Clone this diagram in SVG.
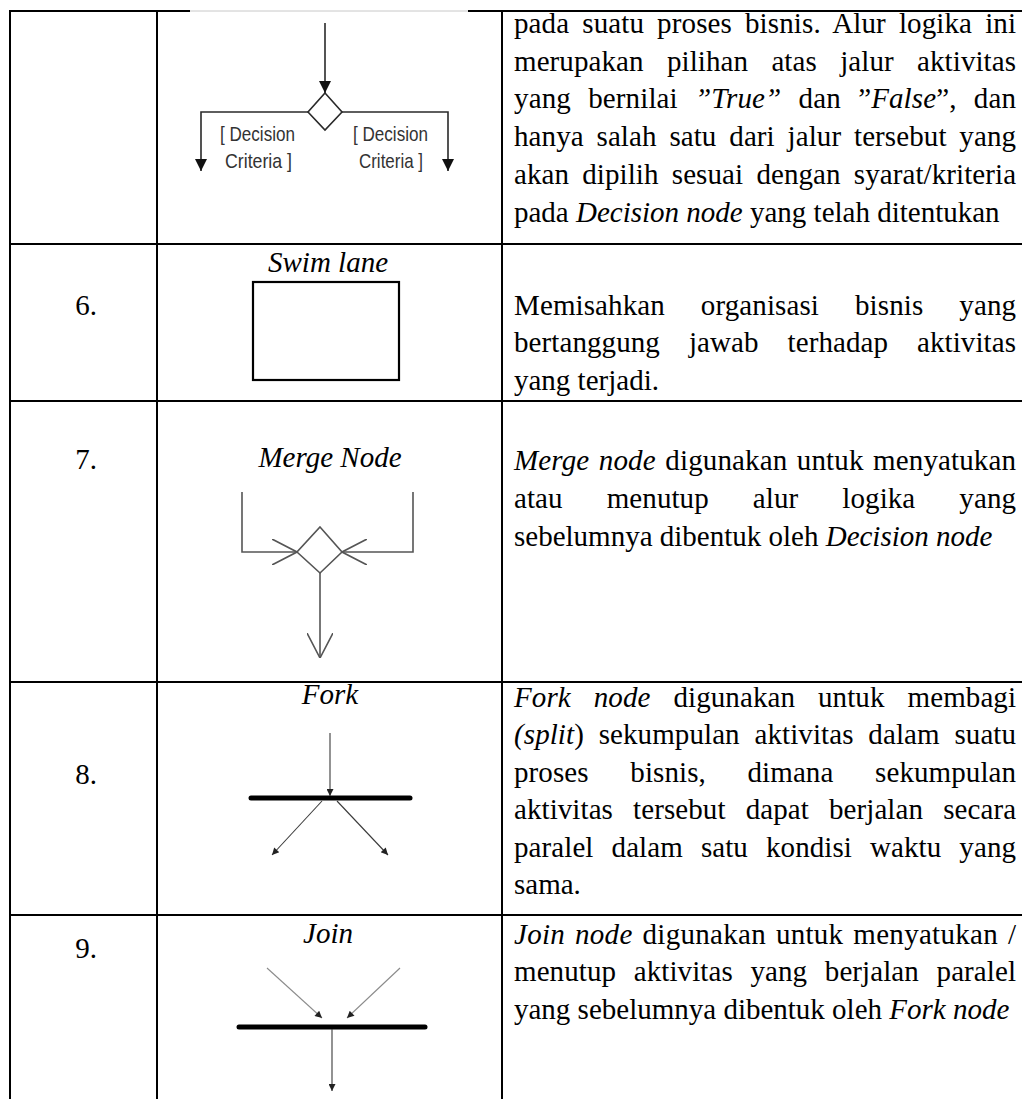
<svg xmlns="http://www.w3.org/2000/svg" width="1022" height="1099" viewBox="0 0 1022 1099">
  <style>
    .grid { stroke: #000; stroke-width: 2; fill: none; }
    .txt { font-family: "Liberation Serif", "Times New Roman", serif; font-size: 29px; fill: #000; }
    .it { font-style: italic; }
    .num { text-anchor: middle; }
    .cap { font-family: "Liberation Serif", "Times New Roman", serif; font-size: 29px; font-style: italic; text-anchor: middle; fill: #000; }
    .lbl { font-family: "Liberation Sans", Arial, sans-serif; font-size: 21px; fill: #333; }
    .dk { stroke: #2a2a2a; stroke-width: 1.6; fill: none; }
    .gr { stroke: #555; stroke-width: 1.6; fill: none; }
    .thin { stroke: #3a3a3a; stroke-width: 1.1; fill: none; }
    .light { stroke: #8a8a8a; stroke-width: 1.1; fill: none; }
    .bar { stroke: #000; stroke-width: 5; stroke-linecap: round; }
  </style>
  <defs>
    <marker id="tri" viewBox="0 0 10 10" refX="10" refY="5" markerUnits="userSpaceOnUse" markerWidth="14" markerHeight="12" orient="auto">
      <path d="M0,0 L10,5 L0,10 z" fill="#111"/>
    </marker>
    <marker id="triSm" viewBox="0 0 10 10" refX="10" refY="5" markerUnits="userSpaceOnUse" markerWidth="9" markerHeight="7" orient="auto">
      <path d="M0,0 L10,5 L0,10 z" fill="#222"/>
    </marker>
    <marker id="open" viewBox="0 0 25 26" refX="25" refY="13" markerUnits="userSpaceOnUse" markerWidth="25" markerHeight="26" orient="auto">
      <path d="M0,0 L25,13 L0,26" fill="none" stroke="#555" stroke-width="1.6"/>
    </marker>
  </defs>

  <rect width="1022" height="1099" fill="#fff"/>

  <!-- table rules -->
  <g id="table" class="grid">
    <line x1="9" y1="11" x2="190" y2="11"/>
    <line x1="190" y1="11" x2="468" y2="11" stroke="#c8c8c8" stroke-width="1"/>
    <line x1="468" y1="11" x2="1022" y2="11"/>
    <line x1="10" y1="10" x2="10" y2="1099"/>
    <line x1="157" y1="10" x2="157" y2="1099"/>
    <line x1="502" y1="10" x2="502" y2="1099"/>
    <line x1="9" y1="244" x2="1022" y2="244"/>
    <line x1="9" y1="401" x2="1022" y2="401"/>
    <line x1="9" y1="682" x2="1022" y2="682"/>
    <line x1="9" y1="915" x2="1022" y2="915"/>
  </g>

  <!-- row numbers -->
  <g id="numbers" class="txt num">
    <text x="86" y="315">6.</text>
    <text x="86" y="469">7.</text>
    <text x="86" y="784">8.</text>
    <text x="86" y="958">9.</text>
  </g>

  <!-- decision node -->
  <g id="decision-node">
    <path class="dk" d="M325,93 L342,112 L325,130 L308,112 Z"/>
    <text class="lbl" x="220" y="141" textLength="75" lengthAdjust="spacingAndGlyphs">[ Decision</text>
    <text class="lbl" x="225" y="168" textLength="67" lengthAdjust="spacingAndGlyphs">Criteria ]</text>
    <text class="lbl" x="353" y="141" textLength="75" lengthAdjust="spacingAndGlyphs">[ Decision</text>
    <text class="lbl" x="359" y="168" textLength="64" lengthAdjust="spacingAndGlyphs">Criteria ]</text>
  </g>

  <!-- swim lane -->
  <g id="swim-lane">
    <text class="cap" x="328" y="272">Swim lane</text>
    <rect x="253" y="282" width="146" height="98" fill="none" stroke="#000" stroke-width="2.2"/>
  </g>

  <!-- merge node -->
  <g id="merge-node">
    <text class="cap" x="330" y="467">Merge Node</text>
    <path class="gr" d="M320,527 L342,552 L320,573 L297,552 Z"/>
  </g>

  <!-- fork node -->
  <g id="fork-node">
    <text class="cap" x="330" y="704">Fork</text>
    <line class="bar" x1="251" y1="798" x2="410" y2="798"/>
  </g>

  <!-- join node -->
  <g id="join-node">
    <text class="cap" x="328" y="943">Join</text>
    <line class="bar" x1="239" y1="1027" x2="425" y2="1027"/>
  </g>

  <!-- flow arrows -->
  <g id="connectors">
    <line class="dk" x1="325" y1="23" x2="325" y2="93" marker-end="url(#tri)"/>
    <path class="dk" d="M308,112 H201 V171" marker-end="url(#tri)"/>
    <path class="dk" d="M342,112 H448 V171" marker-end="url(#tri)"/>

    <path class="gr" d="M242,492 V552 H297" marker-end="url(#open)"/>
    <path class="gr" d="M413,492 V552 H342" marker-end="url(#open)"/>
    <line class="gr" x1="320" y1="573" x2="320" y2="658" marker-end="url(#open)"/>

    <line class="thin" x1="330" y1="733" x2="330" y2="796" marker-end="url(#triSm)"/>
    <line class="thin" x1="322" y1="801" x2="272" y2="855" marker-end="url(#triSm)"/>
    <line class="thin" x1="337" y1="801" x2="388" y2="855" marker-end="url(#triSm)"/>

    <line class="light" x1="267" y1="968" x2="322" y2="1018" marker-end="url(#triSm)"/>
    <line class="light" x1="400" y1="968" x2="347" y2="1018" marker-end="url(#triSm)"/>
    <line class="thin" x1="332" y1="1029" x2="332" y2="1091" marker-end="url(#triSm)"/>
  </g>

  <!-- description column -->
  <g id="descriptions" class="txt">
    <text x="514" y="33" textLength="502" lengthAdjust="spacing" style="word-spacing:5.7px">pada suatu proses bisnis. Alur logika ini</text>
    <text x="514" y="71" textLength="502" lengthAdjust="spacing" style="word-spacing:16px">merupakan pilihan atas jalur aktivitas</text>
    <text x="514" y="108" textLength="502" lengthAdjust="spacing" style="word-spacing:9.9px">yang bernilai <tspan class="it">”True”</tspan> dan ”<tspan class="it">False</tspan>”, dan</text>
    <text x="514" y="146" textLength="502" lengthAdjust="spacing" style="word-spacing:5.5px">hanya salah satu dari jalur tersebut yang</text>
    <text x="514" y="184" textLength="502" lengthAdjust="spacing" style="word-spacing:5.9px">akan dipilih sesuai dengan syarat/kriteria</text>
    <text x="514" y="222">pada <tspan class="it">Decision node</tspan> yang telah ditentukan</text>

    <text x="514" y="315" textLength="502" lengthAdjust="spacing" style="word-spacing:28.6px">Memisahkan organisasi bisnis yang</text>
    <text x="514" y="352" textLength="502" lengthAdjust="spacing" style="word-spacing:21.6px">bertanggung jawab terhadap aktivitas</text>
    <text x="514" y="390">yang terjadi.</text>

    <text x="514" y="470" textLength="502" lengthAdjust="spacing" style="word-spacing:2.2px"><tspan class="it">Merge node</tspan> digunakan untuk menyatukan</text>
    <text x="514" y="508" textLength="502" lengthAdjust="spacing" style="word-spacing:36.7px">atau menutup alur logika yang</text>
    <text x="514" y="546">sebelumnya dibentuk oleh <tspan class="it">Decision node</tspan></text>

    <text x="514" y="707" textLength="502" lengthAdjust="spacing" style="word-spacing:15.6px"><tspan class="it">Fork node</tspan> digunakan untuk membagi</text>
    <text x="514" y="744" textLength="502" lengthAdjust="spacing" style="word-spacing:7.5px"><tspan class="it">(split</tspan>) sekumpulan aktivitas dalam suatu</text>
    <text x="514" y="782" textLength="502" lengthAdjust="spacing" style="word-spacing:34.3px">proses bisnis, dimana sekumpulan</text>
    <text x="514" y="819" textLength="502" lengthAdjust="spacing" style="word-spacing:12.8px">aktivitas tersebut dapat berjalan secara</text>
    <text x="514" y="857" textLength="502" lengthAdjust="spacing" style="word-spacing:10.7px">paralel dalam satu kondisi waktu yang</text>
    <text x="514" y="894">sama.</text>

    <text x="514" y="944" textLength="502" lengthAdjust="spacing" style="word-spacing:2.4px"><tspan class="it">Join node</tspan> digunakan untuk menyatukan /</text>
    <text x="514" y="981" textLength="502" lengthAdjust="spacing" style="word-spacing:10.3px">menutup aktivitas yang berjalan paralel</text>
    <text x="514" y="1019">yang sebelumnya dibentuk oleh <tspan class="it">Fork node</tspan></text>
  </g>
</svg>
